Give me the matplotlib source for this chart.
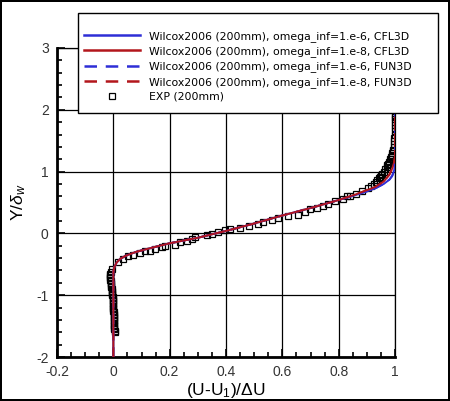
import matplotlib
matplotlib.use("Agg")
import matplotlib.pyplot as plt
from matplotlib.lines import Line2D
from matplotlib.patches import Rectangle
from matplotlib.ticker import MultipleLocator, FuncFormatter

plt.rcParams["font.family"] = ["Liberation Sans", "DejaVu Sans"]
plt.rcParams["mathtext.fontset"] = "custom"
plt.rcParams["mathtext.rm"] = "Liberation Sans"
plt.rcParams["mathtext.it"] = "Liberation Sans:italic"

# Wilcox2006, omega_inf = 1e-6 (CFL3D)
u_cfl_6 = [0.0, 0.0, 0.004, 0.012, 0.025, 0.045, 0.08, 0.13, 0.2, 0.3, 0.4, 0.5,
           0.6, 0.7, 0.8, 0.86, 0.9, 0.93, 0.96, 0.98, 0.99, 0.997, 1.0, 1.0]
y_cfl_6 = [-2.0, -0.62, -0.54, -0.47, -0.41, -0.36, -0.3, -0.24, -0.16, -0.07, 0.04, 0.16,
           0.29, 0.41, 0.54, 0.62, 0.68, 0.73, 0.8, 0.87, 0.93, 1.02, 1.15, 3.0]
# Wilcox2006, omega_inf = 1e-8 (CFL3D)
u_cfl_8 = [0.0, 0.0, 0.004, 0.012, 0.025, 0.045, 0.08, 0.13, 0.2, 0.3, 0.4, 0.5,
           0.6, 0.7, 0.8, 0.86, 0.9, 0.93, 0.96, 0.98, 0.99, 0.997, 1.0, 1.0]
y_cfl_8 = [-2.0, -0.62, -0.54, -0.47, -0.41, -0.36, -0.3, -0.24, -0.16, -0.07, 0.04, 0.16,
           0.29, 0.41, 0.54, 0.63, 0.7, 0.75, 0.84, 0.95, 1.05, 1.15, 1.25, 3.0]
# FUN3D results lie on top of the CFL3D curves
u_fun_6 = u_cfl_6
y_fun_6 = y_cfl_6
u_fun_8 = u_cfl_8
y_fun_8 = y_cfl_8

# Experiment (200mm)
u_exp = [0.005, 0.005, 0.004, 0.004, 0.004, 0.003, 0.003, 0.003, 0.002, 0.002,
         0.002, 0.001, 0.001, 0.001, 0.0, 0.0, 0.0, -0.001, -0.001, -0.001,
         -0.002, -0.002, -0.003, -0.003, -0.004, -0.004, -0.005, -0.005, -0.006,
         -0.007, -0.007, -0.008, -0.009, -0.01, -0.011, -0.012, -0.012, -0.012,
         -0.011, -0.009, -0.005,
         0.018, 0.035, 0.053, 0.071, 0.096, 0.113, 0.131, 0.149, 0.173, 0.184,
         0.22, 0.238, 0.261, 0.279, 0.29, 0.332, 0.35, 0.372, 0.397,
         0.415, 0.45, 0.48, 0.515, 0.533, 0.563, 0.586, 0.62, 0.657, 0.68, 0.699,
         0.722, 0.746, 0.763, 0.787, 0.815, 0.829, 0.84, 0.86, 0.883, 0.905, 0.915,
         0.926, 0.932, 0.937, 0.942, 0.947, 0.951, 0.955, 0.96, 0.965, 0.97,
         0.973, 0.976, 0.98, 0.983, 0.986, 0.988, 0.99, 0.992, 0.994, 0.995,
         0.996, 0.997, 0.998, 0.999, 1.0, 1.0, 1.0, 1.0, 1.0, 1.001, 1.001]
y_exp = [-1.6, -1.575, -1.55, -1.525, -1.5, -1.475, -1.45, -1.425, -1.4, -1.375,
         -1.35, -1.325, -1.3, -1.275, -1.25, -1.225, -1.2, -1.175, -1.15, -1.125,
         -1.1, -1.075, -1.05, -1.025, -1.0, -0.975, -0.95, -0.925, -0.9,
         -0.875, -0.85, -0.825, -0.8, -0.775, -0.75, -0.725, -0.7, -0.675,
         -0.65, -0.62, -0.57,
         -0.47, -0.42, -0.37, -0.355, -0.31, -0.29, -0.29, -0.26, -0.226, -0.205,
         -0.18, -0.145, -0.124, -0.097, -0.065, -0.03, -0.005, 0.02, 0.05,
         0.065, 0.08, 0.12, 0.16, 0.18, 0.215, 0.25, 0.28, 0.295, 0.35, 0.39,
         0.41, 0.45, 0.48, 0.52, 0.56, 0.6, 0.61, 0.645, 0.69, 0.74, 0.77,
         0.8, 0.83, 0.86, 0.89, 0.92, 0.94, 0.96, 1.0, 1.04, 1.08,
         1.1, 1.13, 1.16, 1.2, 1.24, 1.27, 1.3, 1.33, 1.35, 1.4,
         1.45, 1.5, 1.55, 1.6, 1.65, 1.7, 1.75, 1.8, 1.85, 1.89, 1.92]

labels = [
    "Wilcox2006 (200mm), omega_inf=1.e-6, CFL3D",
    "Wilcox2006 (200mm), omega_inf=1.e-8, CFL3D",
    "Wilcox2006 (200mm), omega_inf=1.e-6, FUN3D",
    "Wilcox2006 (200mm), omega_inf=1.e-8, FUN3D",
    "EXP (200mm)",
]

C_BLUE = "#2e2ed6"
C_RED = "#b3161c"

fig = plt.figure(figsize=(4.5, 4.01), dpi=100)
fig.patch.set_edgecolor("black")
fig.patch.set_linewidth(1.5)
ax = fig.add_axes([0.1267, 0.1097, 0.7511, 0.7706])

ax.plot(u_exp, y_exp, ls="none", marker="s", ms=4, mfc="none", mec="black",
        mew=0.9, zorder=3)
ax.plot(u_cfl_6, y_cfl_6, color=C_BLUE, lw=1.4, zorder=4)
ax.plot(u_cfl_8, y_cfl_8, color=C_RED, lw=1.4, zorder=4)
ax.plot(u_fun_6, y_fun_6, color=C_BLUE, lw=1.4, dashes=(5, 3.5), zorder=4)
ax.plot(u_fun_8, y_fun_8, color=C_RED, lw=1.4, dashes=(5, 3.5), zorder=4)

ax.set_xlim(-0.2, 1.0)
ax.set_ylim(-2, 3)
ax.xaxis.set_major_locator(MultipleLocator(0.2))
ax.xaxis.set_minor_locator(MultipleLocator(0.05))
ax.yaxis.set_major_locator(MultipleLocator(1))
ax.yaxis.set_minor_locator(MultipleLocator(0.2))
fmt = FuncFormatter(lambda v, p: f"{round(v, 6):g}")
ax.xaxis.set_major_formatter(fmt)
ax.yaxis.set_major_formatter(fmt)
ax.grid(True, which="major", color="black", lw=0.9)
ax.tick_params(which="both", direction="in", top=False, right=False,
               labelsize=10, labelcolor="#333333", width=1.2)
ax.tick_params(which="major", length=6, pad=6)
ax.tick_params(which="minor", length=3.5)
ax.spines["left"].set_linewidth(2)
ax.spines["bottom"].set_linewidth(2)
ax.spines["top"].set_linewidth(0.9)
ax.spines["right"].set_linewidth(0.9)

ax.set_xlabel("(U-U$_1$)/$\\Delta$U", fontsize=12.5, labelpad=1)
ax.set_ylabel("Y/$\\delta_w$", fontsize=12.5, labelpad=6)

# legend box in the Tecplot style, drawn over the axes
box = Rectangle((78 / 450, 1 - 113 / 401), 360 / 450, 100 / 401,
                transform=fig.transFigure, facecolor="white", edgecolor="black",
                lw=1.0, zorder=5)
fig.patches.append(box)
handles = [
    Line2D([], [], color=C_BLUE, lw=1.8),
    Line2D([], [], color=C_RED, lw=1.8),
    Line2D([], [], color=C_BLUE, lw=1.8, dashes=(5, 3.5)),
    Line2D([], [], color=C_RED, lw=1.8, dashes=(5, 3.5)),
    Line2D([], [], ls="none", marker="s", ms=4, mfc="none", mec="black", mew=0.9),
]
leg = fig.legend(handles, labels, loc="upper left",
                 bbox_to_anchor=(84 / 450, 1 - 31 / 401), frameon=False,
                 fontsize=7.8, handlelength=5.2, handletextpad=0.8,
                 labelspacing=0.4, borderpad=0, borderaxespad=0)
leg.set_zorder(6)
for t in leg.get_texts():
    t.set_family(["DejaVu Sans"])

fig.savefig("out.png", dpi=100)
